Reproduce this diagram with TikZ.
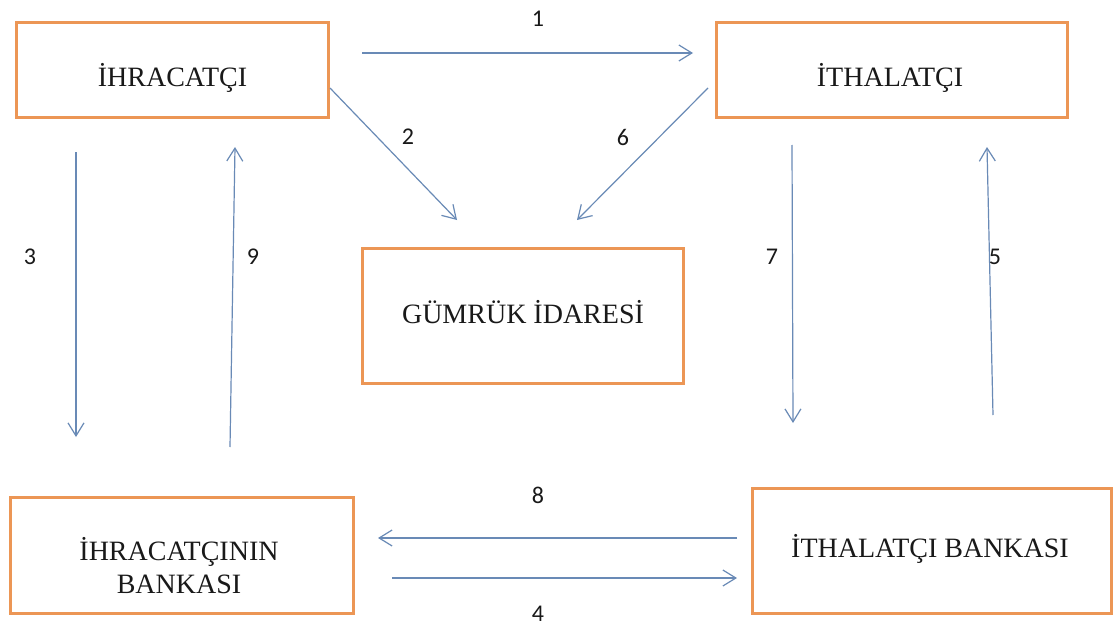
\documentclass[tikz,border=0pt]{standalone}
\usepackage{fontspec}
\setmainfont{Liberation Serif}
\newfontfamily\numfont{Carlito}
\usetikzlibrary{arrows.meta}
\definecolor{boxorange}{RGB}{236,150,85}
\definecolor{arrowblue}{RGB}{105,138,182}
\definecolor{inkgray}{RGB}{25,25,25}
\begin{document}
\begin{tikzpicture}[x=1pt,y=-1pt,
  box/.style={draw=boxorange, line width=3pt, fill=white, inner sep=0pt},
  boxtext/.style={anchor=base, inner sep=0pt, align=center, text=inkgray,
    font=\fontsize{28}{33}\selectfont},
  flow/.style={draw=arrowblue, line width=1.2pt,
    -{Straight Barb[length=13pt,width=16pt,line width=1.2pt]}},
  num/.style={inner sep=0pt, text=inkgray, font=\numfont\fontsize{24}{28}\selectfont}]
\useasboundingbox (0,0) rectangle (1114,626);
\fill[white] (0,0) rectangle (1114,626);

% boxes
\node[box, minimum width=312pt, minimum height=94pt]  (exp)      at (172,70)    {};
\node[box, minimum width=351pt, minimum height=94pt]  (imp)      at (891.5,70)  {};
\node[box, minimum width=321pt, minimum height=135pt] (customs)  at (522.5,315.5) {};
\node[box, minimum width=343pt, minimum height=116pt] (expbank)  at (181.5,555) {};
\node[box, minimum width=359pt, minimum height=125pt] (impbank)  at (931.5,550.5) {};

% box texts
\node[boxtext] (expT)     at (172.5,87)  {İHRACATÇI};
\node[boxtext] (impT)     at (890,87)    {İTHALATÇI};
\node[boxtext] (customsT) at (523,323)   {GÜMRÜK İDARESİ};
\node[boxtext] (expbankT) at (179,593)   {İHRACATÇININ\\BANKASI};
\node[boxtext] (impbankT) at (930,557)   {İTHALATÇI BANKASI};

% arrow end points
\coordinate (a1s) at (362,53);  \coordinate (a1e) at (693,53);
\coordinate (a2s) at (330,88);  \coordinate (a2e) at (457,220);
\coordinate (a6s) at (708,88);  \coordinate (a6e) at (577,220);
\coordinate (a3s) at (76,152);  \coordinate (a3e) at (76,437);
\coordinate (a9s) at (230,447); \coordinate (a9e) at (235,147);
\coordinate (a7s) at (792,145); \coordinate (a7e) at (793,423);
\coordinate (a5s) at (993,415); \coordinate (a5e) at (987,147);
\coordinate (a8s) at (737,538); \coordinate (a8e) at (378,538);
\coordinate (a4s) at (392,578); \coordinate (a4e) at (737,578);

% arrows
\draw[flow] (a1s) -- (a1e);
\draw[flow] (a2s) -- (a2e);
\draw[flow] (a6s) -- (a6e);
\draw[flow] (a3s) -- (a3e);
\draw[flow] (a9s) -- (a9e);
\draw[flow] (a7s) -- (a7e);
\draw[flow] (a5s) -- (a5e);
\draw[flow] (a8s) -- (a8e);
\draw[flow] (a4s) -- (a4e);

% step numbers
\node[num] (n1) at (538,19)  {1};
\node[num] (n2) at (408,137) {2};
\node[num] (n6) at (623,137) {6};
\node[num] (n3) at (30,257)  {3};
\node[num] (n9) at (253,257) {9};
\node[num] (n7) at (772,257) {7};
\node[num] (n5) at (995,257) {5};
\node[num] (n8) at (538,495) {8};
\node[num] (n4) at (538,614) {4};
\end{tikzpicture}
\end{document}
